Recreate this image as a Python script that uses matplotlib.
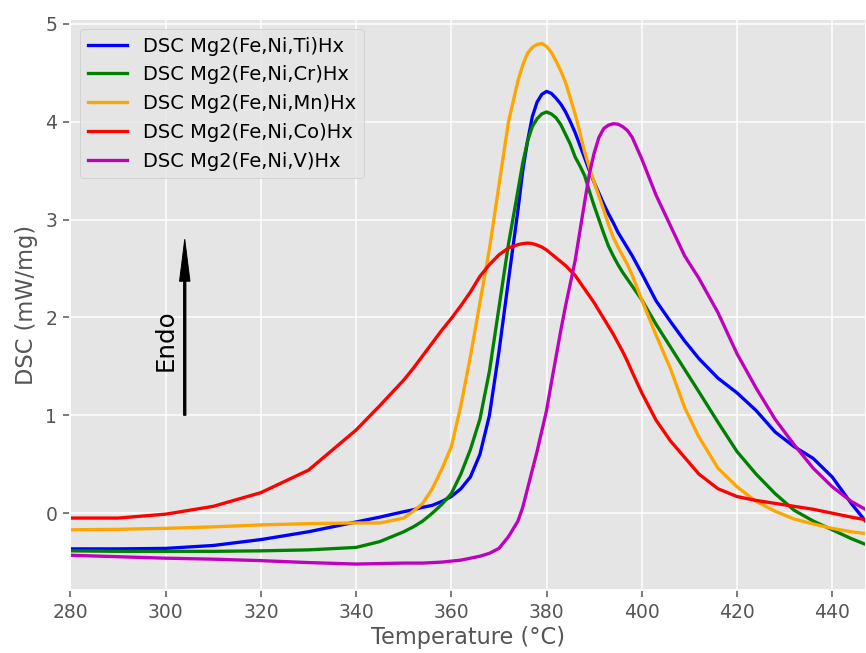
import numpy as np
import matplotlib
matplotlib.use('Agg')
import matplotlib.pyplot as plt

plt.style.use('ggplot')

# === Data ===
temp = [280, 290, 300, 310, 320, 330, 340, 345, 350, 352, 354, 356, 358, 360,
        362, 364, 366, 368, 370, 372, 374, 375, 376, 377, 378, 379, 380, 381,
        382, 383, 384, 385, 386, 387, 388, 389, 390, 391, 392, 393, 394, 395,
        396, 397, 398, 400, 403, 406, 409, 412, 416, 420, 424, 428, 432, 436,
        440, 444, 447.3]

dsc_ti = [-0.365, -0.365, -0.36, -0.33, -0.27, -0.19, -0.09, -0.04, 0.015, 0.035,
          0.06, 0.08, 0.12, 0.17, 0.25, 0.37, 0.60, 1.00, 1.65, 2.38, 3.10, 3.50,
          3.80, 4.05, 4.20, 4.28, 4.31, 4.29, 4.24, 4.18, 4.10, 4.00, 3.89, 3.76,
          3.63, 3.50, 3.38, 3.27, 3.16, 3.06, 2.97, 2.87, 2.79, 2.71, 2.63, 2.45,
          2.17, 1.96, 1.76, 1.58, 1.38, 1.23, 1.05, 0.83, 0.68, 0.56, 0.37, 0.10,
          -0.10]

dsc_cr = [-0.385, -0.39, -0.39, -0.39, -0.385, -0.375, -0.35, -0.29, -0.19, -0.14,
          -0.08, 0.0, 0.09, 0.20, 0.40, 0.65, 0.96, 1.45, 2.10, 2.75, 3.30, 3.58,
          3.80, 3.95, 4.03, 4.08, 4.10, 4.08, 4.04, 3.97, 3.87, 3.77, 3.64, 3.55,
          3.45, 3.29, 3.14, 3.00, 2.86, 2.73, 2.63, 2.54, 2.46, 2.39, 2.32, 2.18,
          1.93, 1.70, 1.47, 1.24, 0.93, 0.63, 0.40, 0.20, 0.03, -0.08, -0.17,
          -0.26, -0.325]

dsc_mn = [-0.17, -0.165, -0.155, -0.14, -0.12, -0.107, -0.10, -0.10, -0.05, 0.02,
          0.10, 0.25, 0.45, 0.68, 1.10, 1.60, 2.15, 2.70, 3.35, 4.00, 4.42, 4.58,
          4.70, 4.76, 4.79, 4.80, 4.77, 4.71, 4.62, 4.52, 4.40, 4.24, 4.08, 3.89,
          3.69, 3.53, 3.38, 3.24, 3.10, 2.95, 2.82, 2.72, 2.63, 2.54, 2.43, 2.18,
          1.82, 1.48, 1.08, 0.78, 0.46, 0.27, 0.12, 0.02, -0.06, -0.11, -0.155,
          -0.19, -0.21]

dsc_co = [-0.05, -0.05, -0.01, 0.07, 0.21, 0.44, 0.85, 1.10, 1.36, 1.48, 1.61,
          1.74, 1.87, 1.99, 2.12, 2.26, 2.42, 2.54, 2.64, 2.71, 2.745, 2.755, 2.76,
          2.755, 2.74, 2.72, 2.69, 2.65, 2.61, 2.57, 2.53, 2.48, 2.43, 2.36, 2.29,
          2.22, 2.15, 2.07, 1.99, 1.91, 1.83, 1.74, 1.65, 1.55, 1.44, 1.23, 0.95,
          0.74, 0.57, 0.40, 0.25, 0.17, 0.13, 0.10, 0.07, 0.04, 0.00, -0.04, -0.07]

dsc_v = [-0.43, -0.445, -0.46, -0.47, -0.485, -0.505, -0.52, -0.515, -0.51, -0.51,
         -0.51, -0.505, -0.50, -0.49, -0.48, -0.46, -0.44, -0.41, -0.36, -0.24,
         -0.08, 0.06, 0.25, 0.44, 0.63, 0.84, 1.05, 1.33, 1.60, 1.87, 2.12, 2.35,
         2.58, 2.88, 3.18, 3.47, 3.68, 3.84, 3.93, 3.965, 3.98, 3.975, 3.95, 3.91,
         3.84, 3.62, 3.25, 2.94, 2.63, 2.40, 2.05, 1.63, 1.28, 0.96, 0.70, 0.46,
         0.27, 0.12, 0.03]

labels = ['DSC Mg2(Fe,Ni,Ti)Hx', 'DSC Mg2(Fe,Ni,Cr)Hx', 'DSC Mg2(Fe,Ni,Mn)Hx',
          'DSC Mg2(Fe,Ni,Co)Hx', 'DSC Mg2(Fe,Ni,V)Hx']
colors = ['blue', 'green', 'orange', 'red', 'm']
series = [dsc_ti, dsc_cr, dsc_mn, dsc_co, dsc_v]

# === Plotting ===
fig = plt.figure(figsize=(866 / 135, 653 / 135), dpi=135)
ax = fig.add_axes([0.0814, 0.0965, 0.9186, 0.8744])

for y, c, lab in zip(series, colors, labels):
    ax.plot(temp, y, color=c, lw=1.75, label=lab)

ax.arrow(304, 1.0, 0, 1.8, width=0.5, head_width=2.2, head_length=0.43,
         length_includes_head=True, fc='black', ec='black')
ax.text(300, 1.77, 'Endo', rotation=90, fontsize=13, color='black',
        ha='center', va='center')

ax.set_xlim(280, 447.1)
ax.set_ylim(-0.785, 5.05)
ax.set_xticks(np.arange(280, 441, 20))
ax.set_yticks(range(0, 6))
ax.set_xlabel('Temperature (°C)', fontsize=12, labelpad=2)
ax.set_ylabel('DSC (mW/mg)', fontsize=12)
ax.legend(loc='upper left', fontsize=10.4)

fig.savefig('out.png', dpi=135)
